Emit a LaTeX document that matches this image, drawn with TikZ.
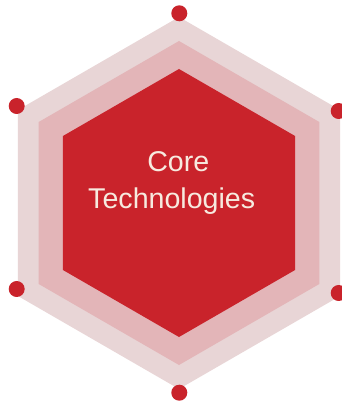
\documentclass[tikz,border=0pt]{standalone}
\usepackage{fontspec}
\setmainfont{Liberation Sans}
\definecolor{corered}{HTML}{C9232B}
\definecolor{ringmid}{HTML}{E3B5B8}
\definecolor{ringout}{HTML}{E8D5D6}
\definecolor{labelcream}{HTML}{F7EADF}
\tikzset{
  vdot/.style={circle, fill=corered, draw=none, minimum size=16bp, inner sep=0pt},
  corelabel/.style={text=labelcream, font=\fontsize{28.6bp}{34bp}\selectfont, anchor=base, inner sep=0pt}
}
\begin{document}
\begin{tikzpicture}[x=1bp, y=1bp]
  \useasboundingbox (0,0) rectangle (342,403);
  \fill[white] (0,0) rectangle (342,403);
  % three nested pointy-top hexagons around a common centre
  \foreach \r/\col in {186/ringout, 162/ringmid, 134/corered}{
    \fill[\col] ([shift={(179,200)}]90:\r bp) -- ([shift={(179,200)}]150:\r bp)
      -- ([shift={(179,200)}]210:\r bp) -- ([shift={(179,200)}]270:\r bp)
      -- ([shift={(179,200)}]330:\r bp) -- ([shift={(179,200)}]30:\r bp) -- cycle;
  }
  % corner markers
  \node[vdot] (top) at (179.3,389.7) {};
  \node[vdot] (ul)  at (16.7,297) {};
  \node[vdot] (ll)  at (16.7,114) {};
  \node[vdot] (bot) at (179.3,10.3) {};
  \node[vdot] (lr)  at (338.7,110) {};
  \node[vdot] (ur)  at (338.7,292) {};
  % label
  \node[corelabel] (core) at (178.3,231.3) {Core};
  \node[corelabel] (tech) at (171.7,195) {Technologies};
\end{tikzpicture}
\end{document}
